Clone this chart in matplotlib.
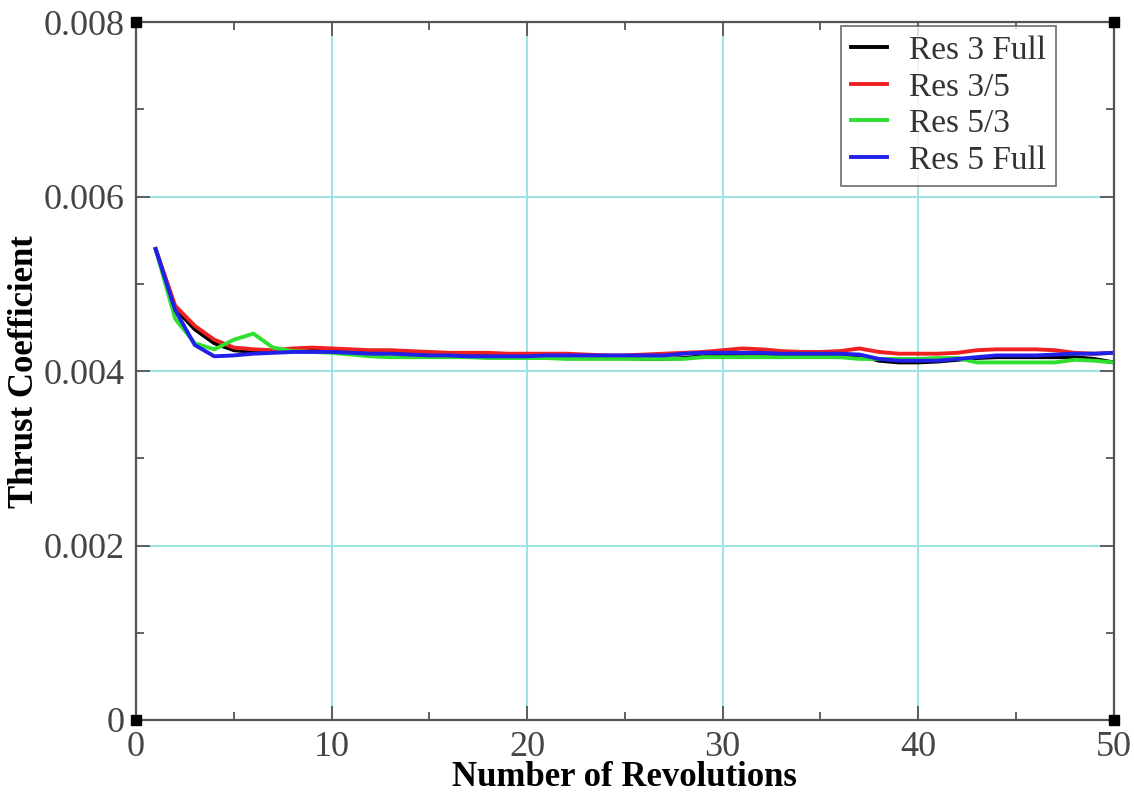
"""
Coeficiente de empuje frente al numero de revoluciones para cuatro resoluciones.
"""

import matplotlib

matplotlib.use("Agg")
import matplotlib.pyplot as plt
import numpy as np
from matplotlib.ticker import MultipleLocator

revoluciones = np.arange(1, 51)

res3_full = [
    0.00540, 0.00472, 0.00448, 0.00432, 0.00424, 0.00422, 0.00422, 0.00424, 0.00424, 0.00423,
    0.00422, 0.00421, 0.00421, 0.00420, 0.00419, 0.00418, 0.00418, 0.00418, 0.00418, 0.00418,
    0.00418, 0.00417, 0.00416, 0.00415, 0.00415, 0.00414, 0.00414, 0.00415, 0.00417, 0.00419,
    0.00420, 0.00420, 0.00419, 0.00419, 0.00419, 0.00419, 0.00418, 0.00412, 0.00410, 0.00410,
    0.00411, 0.00413, 0.00415, 0.00416, 0.00416, 0.00416, 0.00416, 0.00416, 0.00414, 0.00410,
]
res3_5 = [
    0.00540, 0.00475, 0.00452, 0.00436, 0.00427, 0.00425, 0.00424, 0.00426, 0.00427, 0.00426,
    0.00425, 0.00424, 0.00424, 0.00423, 0.00422, 0.00421, 0.00421, 0.00421, 0.00420, 0.00420,
    0.00420, 0.00420, 0.00419, 0.00418, 0.00418, 0.00419, 0.00420, 0.00421, 0.00422, 0.00424,
    0.00426, 0.00425, 0.00423, 0.00422, 0.00422, 0.00423, 0.00426, 0.00422, 0.00420, 0.00420,
    0.00420, 0.00421, 0.00424, 0.00425, 0.00425, 0.00425, 0.00424, 0.00421, 0.00420, 0.00421,
]
res5_3 = [
    0.00540, 0.00460, 0.00432, 0.00425, 0.00436, 0.00443, 0.00427, 0.00423, 0.00422, 0.00421,
    0.00419, 0.00417, 0.00416, 0.00416, 0.00416, 0.00416, 0.00416, 0.00415, 0.00415, 0.00415,
    0.00415, 0.00414, 0.00414, 0.00414, 0.00414, 0.00414, 0.00414, 0.00414, 0.00416, 0.00416,
    0.00416, 0.00416, 0.00416, 0.00416, 0.00416, 0.00416, 0.00414, 0.00414, 0.00414, 0.00414,
    0.00415, 0.00415, 0.00410, 0.00410, 0.00410, 0.00410, 0.00410, 0.00413, 0.00412, 0.00410,
]
res5_full = [
    0.00540, 0.00470, 0.00430, 0.00417, 0.00418, 0.00420, 0.00421, 0.00422, 0.00422, 0.00422,
    0.00421, 0.00420, 0.00420, 0.00419, 0.00418, 0.00418, 0.00417, 0.00417, 0.00417, 0.00417,
    0.00418, 0.00418, 0.00418, 0.00418, 0.00418, 0.00418, 0.00418, 0.00420, 0.00421, 0.00421,
    0.00421, 0.00421, 0.00420, 0.00420, 0.00420, 0.00420, 0.00419, 0.00414, 0.00412, 0.00412,
    0.00412, 0.00414, 0.00416, 0.00418, 0.00418, 0.00418, 0.00419, 0.00420, 0.00420, 0.00421,
]

series = [
    ("Res 3 Full", res3_full, "#000000"),
    ("Res 3/5", res3_5, "#f02020"),
    ("Res 5/3", res5_3, "#30e030"),
    ("Res 5 Full", res5_full, "#2020e8"),
]

GRIS = "#555555"
CIAN = "#9ee3e3"

plt.rcParams["font.family"] = ["Liberation Serif", "DejaVu Serif"]

fig = plt.figure(figsize=(11.34, 7.96), dpi=100)
ax = fig.add_axes([0.12, 0.0955, 0.862, 0.8765])

for nombre, valores, color in series:
    ax.plot(revoluciones, valores, color=color, lw=2.8, label=nombre)

# cuadraditos negros en las esquinas, como en el original
ax.plot([0, 50, 0, 50], [0, 0, 0.008, 0.008], "s", color="black", ms=7,
        clip_on=False, zorder=5)

ax.set_xlim(0, 50)
ax.set_ylim(0, 0.008)
ax.xaxis.set_major_locator(MultipleLocator(10))
ax.xaxis.set_minor_locator(MultipleLocator(5))
ax.yaxis.set_major_locator(MultipleLocator(0.002))
ax.yaxis.set_minor_locator(MultipleLocator(0.001))
ax.set_yticks([0, 0.002, 0.004, 0.006, 0.008])
ax.set_yticklabels(["0", "0.002", "0.004", "0.006", "0.008"])

ax.grid(True, which="major", color=CIAN, lw=1.5)
ax.set_axisbelow(True)
ax.tick_params(which="both", direction="in", top=True, right=True, color=GRIS,
               labelsize=26, labelcolor="#444444", width=1.3)
ax.tick_params(which="major", length=10)
ax.tick_params(which="minor", length=6)
ax.tick_params(axis="x", pad=8)
ax.tick_params(axis="y", pad=8)
for sp in ax.spines.values():
    sp.set_color(GRIS)
    sp.set_linewidth(1.6)

ax.set_xlabel("Number of Revolutions", fontsize=25, fontweight="bold", labelpad=-2)
ax.set_ylabel("Thrust Coefficient", fontsize=25, fontweight="bold", labelpad=2)

leg = ax.legend(loc="upper right", bbox_to_anchor=(0.9445, 1.0), borderaxespad=0.1,
                fontsize=24, frameon=True, fancybox=False, edgecolor=GRIS,
                handlelength=1.1, handletextpad=0.65, labelspacing=0.18, borderpad=0.3,
                labelcolor="#333333")
leg.get_frame().set_linewidth(1.3)

fig.savefig("out.png", dpi=100)
